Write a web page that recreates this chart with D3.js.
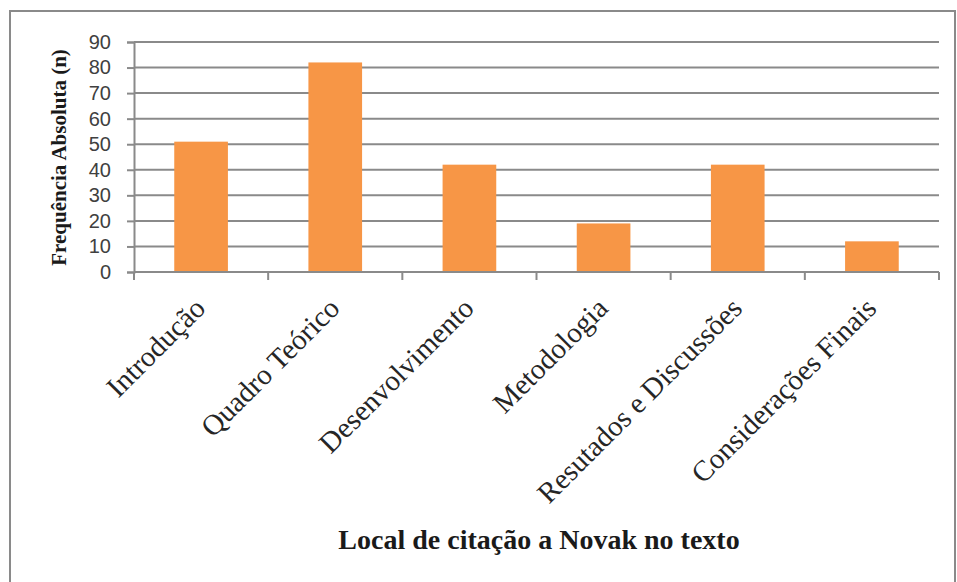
<!DOCTYPE html>
<html>
<head>
<meta charset="utf-8">
<script src="https://cdn.jsdelivr.net/npm/d3@7"></script>
<style>
  html, body { margin: 0; padding: 0; background: #fff; }
  svg { display: block; }
</style>
</head>
<body>
<svg id="chart" width="957" height="582"></svg>
<script>
const categories = ["Introdução", "Quadro Teórico", "Desenvolvimento", "Metodologia", "Resutados e Discussões", "Considerações Finais"];
const values = [51, 82, 42, 19, 42, 12];
const yTicks = [0, 10, 20, 30, 40, 50, 60, 70, 80, 90];
const yTitle = "Frequência Absoluta (n)";
const xTitle = "Local de citação a Novak no texto";

const svg = d3.select("#chart");
const W = 957, H = 582;
const m = { left: 134, right: 957 - 939, top: 42, bottom: 582 - 272 };

// outer chart frame
svg.append("rect")
  .attr("x", 10).attr("y", 11)
  .attr("width", 945).attr("height", 600)
  .attr("fill", "#fff").attr("stroke", "#8a8a8a").attr("stroke-width", 2);

const x = d3.scaleBand()
  .domain(categories)
  .range([m.left, W - m.right])
  .paddingInner(0.6)
  .paddingOuter(0.3);

const y = d3.scaleLinear()
  .domain([0, 90])
  .range([H - m.bottom, m.top]);

const gridColor = "#8a8a8a";

// gridlines
svg.append("g")
  .selectAll("line")
  .data(yTicks.filter(d => d > 0))
  .join("line")
  .attr("x1", m.left).attr("x2", W - m.right)
  .attr("y1", d => y(d)).attr("y2", d => y(d))
  .attr("stroke", gridColor).attr("stroke-width", 2);

// bars
svg.append("g")
  .selectAll("rect")
  .data(values)
  .join("rect")
  .attr("x", (d, i) => x(categories[i]))
  .attr("y", d => y(d))
  .attr("width", x.bandwidth())
  .attr("height", d => y(0) - y(d))
  .attr("fill", "#F79646");

// y axis
const yAxis = d3.axisLeft(y).tickValues(yTicks).tickSize(7).tickPadding(16).tickFormat(d3.format("d"));
const gy = svg.append("g").attr("transform", `translate(${m.left},0)`).call(yAxis);
gy.select(".domain").attr("stroke", gridColor).attr("stroke-width", 2);
gy.selectAll(".tick line").attr("stroke", gridColor).attr("stroke-width", 2);
gy.selectAll(".tick text")
  .attr("fill", "#404040")
  .style("font-family", "'Liberation Sans', Arial, sans-serif")
  .style("font-size", "20px");

// x axis (boundary ticks)
const step = x.step();
const boundaries = d3.range(categories.length + 1).map(i => m.left + i * step);
svg.append("line")
  .attr("x1", m.left).attr("x2", W - m.right)
  .attr("y1", y(0)).attr("y2", y(0))
  .attr("stroke", gridColor).attr("stroke-width", 2);
svg.append("g")
  .selectAll("line")
  .data(boundaries)
  .join("line")
  .attr("x1", d => d).attr("x2", d => d)
  .attr("y1", y(0)).attr("y2", y(0) + 8)
  .attr("stroke", gridColor).attr("stroke-width", 2);

// rotated category labels
svg.append("g")
  .selectAll("text")
  .data(categories)
  .join("text")
  .attr("transform", d => `translate(${x(d) + x.bandwidth() / 2 + 6},${y(0) + 38}) rotate(-45)`)
  .attr("text-anchor", "end")
  .attr("fill", "#262626")
  .style("font-family", "'Liberation Serif', 'Times New Roman', serif")
  .style("font-size", "29px")
  .text(d => d);

// y title
svg.append("text")
  .attr("transform", `translate(66,${(50 + 265) / 2}) rotate(-90)`)
  .attr("text-anchor", "middle")
  .attr("fill", "#1a1a1a")
  .style("font-family", "'Liberation Serif', 'Times New Roman', serif")
  .style("font-weight", "bold")
  .style("font-size", "21px")
  .text(yTitle);

// x title
svg.append("text")
  .attr("x", 539).attr("y", 549)
  .attr("text-anchor", "middle")
  .attr("fill", "#1a1a1a")
  .style("font-family", "'Liberation Serif', 'Times New Roman', serif")
  .style("font-weight", "bold")
  .style("font-size", "28px")
  .text(xTitle);
</script>
</body>
</html>
